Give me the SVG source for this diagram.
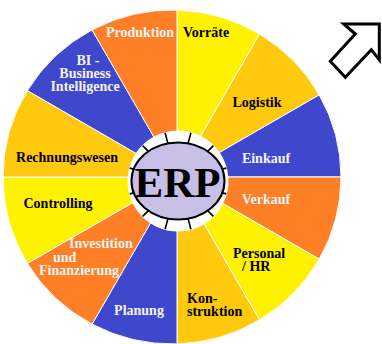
<svg xmlns="http://www.w3.org/2000/svg" width="382" height="344" viewBox="0 0 382 344">
<style>
.s{stroke:#ffffff;stroke-width:1;stroke-linejoin:round}
.y{fill:#FFF200}.g{fill:#FFC90E}.b{fill:#3F48CC}.o{fill:#FF7F27}
text{font-family:"Liberation Serif","DejaVu Serif",serif;font-weight:bold;font-size:14px}
.k{fill:#000000}.w{fill:#F4F4F4}
.m{text-anchor:middle}
.t{stroke:#000;stroke-width:1.6}
</style>
<rect width="382" height="344" fill="#ffffff"/>
<g id="wheel">
<g id="vorraete"><path class="s y" d="M177,177 L177,10.1 A169,167 0 0 1 259.5,34.1 Z"/><text class="k" x="183" y="37">Vorräte</text></g>
<g id="logistik"><path class="s g" d="M177,177 L259.5,34.1 A169,167 0 0 1 319.2,94.9 Z"/><text class="k m" x="257" y="107">Logistik</text></g>
<g id="einkauf"><path class="s b" d="M177,177 L319.2,94.9 A169,167 0 0 1 341,177 Z"/><text class="w m" x="266" y="163">Einkauf</text></g>
<g id="verkauf"><path class="s o" d="M177,177 L341,177 A169,167 0 0 1 319.2,259.1 Z"/><text class="w m" x="266" y="204">Verkauf</text></g>
<g id="personal"><path class="s y" d="M177,177 L319.2,259.1 A169,167 0 0 1 259.5,319.9 Z"/><text class="k" x="233" y="258">Personal</text><text class="k" x="242" y="271">/ HR</text></g>
<g id="konstruktion"><path class="s g" d="M177,177 L259.5,319.9 A169,167 0 0 1 177,343.9 Z"/><text class="k" x="187" y="303">Kon-</text><text class="k" x="187" y="316">struktion</text></g>
<g id="planung"><path class="s b" d="M177,177 L177,343.9 A169,167 0 0 1 92.1,324.1 Z"/><text class="w m" x="139" y="315">Planung</text></g>
<g id="investition"><path class="s o" d="M177,177 L92.1,324.1 A169,167 0 0 1 27.4,263.4 Z"/><text class="w" x="69" y="248">Investition</text><text class="w" x="53" y="262">und</text><text class="w" x="39" y="275">Finanzierung</text></g>
<g id="controlling"><path class="s y" d="M177,177 L27.4,263.4 A169,167 0 0 1 3,177 Z"/><text class="k m" x="58" y="208">Controlling</text></g>
<g id="rechnungswesen"><path class="s g" d="M177,177 L3,177 A169,167 0 0 1 27.4,90.6 Z"/><text class="k m" x="67" y="162">Rechnungswesen</text></g>
<g id="bi"><path class="s b" d="M177,177 L27.4,90.6 A169,167 0 0 1 92.1,29.9 Z"/><text class="w m" x="88" y="65">BI -</text><text class="w m" x="85" y="78">Business</text><text class="w m" x="85" y="91">Intelligence</text></g>
<g id="produktion"><path class="s o" d="M177,177 L92.1,29.9 A169,167 0 0 1 177,10.1 Z"/><text class="w m" x="140" y="37">Produktion</text></g>
</g>
<g id="erp">
<circle cx="178" cy="181" r="50.5" fill="#ffffff"/>
<ellipse cx="178" cy="181" rx="46.5" ry="38.5" fill="#C8BFE7" stroke="#000" stroke-width="2"/>
<text x="177.5" y="197" text-anchor="middle" style="font-size:43px">ERP</text>
</g>
<g id="connectors">
<line class="t" x1="188.1" y1="143.4" x2="190.9" y2="132.7"/>
<line class="t" x1="207.6" y1="151.4" x2="213.4" y2="145.6"/>
<line class="t" x1="222.2" y1="169.1" x2="226.3" y2="168.1"/>
<line class="t" x1="222.2" y1="192.9" x2="226.3" y2="193.9"/>
<line class="t" x1="207.6" y1="210.6" x2="213.4" y2="216.4"/>
<line class="t" x1="188.1" y1="218.6" x2="190.9" y2="229.3"/>
<line class="t" x1="167.9" y1="218.6" x2="165.1" y2="229.3"/>
<line class="t" x1="148.4" y1="210.6" x2="142.6" y2="216.4"/>
<line class="t" x1="133.8" y1="192.9" x2="129.7" y2="193.9"/>
<line class="t" x1="133.8" y1="169.1" x2="129.7" y2="168.1"/>
<line class="t" x1="148.4" y1="151.4" x2="142.6" y2="145.6"/>
<line class="t" x1="167.9" y1="143.4" x2="165.1" y2="132.7"/>
</g>
<g id="arrow">
<polygon points="343.7,24 379.3,24 379.3,59.7 371.3,49.7 345.3,77.3 330.3,61.3 355.3,34" fill="#ffffff" stroke="#000" stroke-width="3" stroke-linejoin="miter"/>
</g>
</svg>
